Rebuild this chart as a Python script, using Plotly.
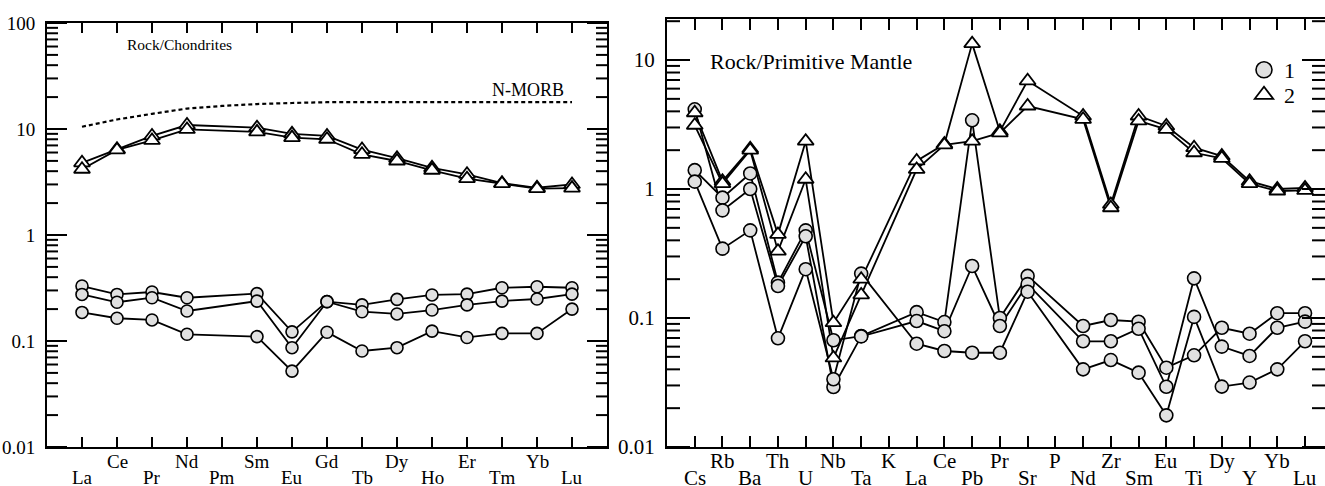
import plotly.graph_objects as go

W, H = 1325, 486
FONT = "Liberation Serif"

# ---------------- Left panel: Rock/Chondrites ----------------
ree = ["La", "Ce", "Pr", "Nd", "Pm", "Sm", "Eu", "Gd", "Tb", "Dy", "Ho", "Er", "Tm", "Yb", "Lu"]

ch_circle_a = [0.33, 0.275, 0.29, 0.256, None, 0.28, 0.122, 0.235, 0.219, 0.247, 0.272, 0.277, 0.318, 0.325, 0.318]
ch_circle_b = [0.275, 0.232, 0.256, 0.192, None, 0.238, 0.0865, 0.235, 0.189, 0.18, 0.196, 0.219, 0.238, 0.249, 0.277]
ch_circle_c = [0.186, 0.164, 0.158, 0.1157, None, 0.11, 0.052, 0.121, 0.0805, 0.0865, 0.124, 0.108, 0.118, 0.118, 0.2]

ch_tri_a = [4.8, 6.45, 8.6, 10.9, None, 10.3, 9.0, 8.6, 6.4, 5.3, 4.3, 3.74, 3.08, 2.79, 3.0]
ch_tri_b = [4.17, 6.35, 7.8, 9.9, None, 9.4, 8.3, 8.0, 5.77, 4.99, 4.08, 3.4, 3.05, 2.74, 2.77]

nmorb = [10.5, 12.3, 13.9, 15.6, 16.5, 17.2, 17.6, 17.9, 17.9, 17.9, 17.8, 17.9, 17.9, 17.9, 17.9]

# ---------------- Right panel: Rock/Primitive Mantle ----------------
spider = ["Cs", "Rb", "Ba", "Th", "U", "Nb", "Ta", "K", "La", "Ce", "Pb", "Pr", "Sr", "P",
          "Nd", "Zr", "Sm", "Eu", "Ti", "Dy", "Y", "Yb", "Lu"]

pm_circle_a = [1.40, 0.857, 1.32, 0.188, 0.478, 0.0672, 0.0725, None, 0.111, 0.093, 3.41, 0.1, 0.212, None,
               0.0867, 0.0965, 0.0936, 0.0412, 0.0514, 0.084, 0.0756, 0.109, 0.109]
pm_circle_b = [4.15, 0.683, 1.0, 0.177, 0.43, 0.0292, 0.072, None, 0.0947, 0.079, 0.253, 0.0867, 0.183, None,
               0.066, 0.066, 0.0826, 0.0293, 0.203, 0.06, 0.0508, 0.084, 0.0937]
pm_circle_c = [1.14, 0.345, 0.478, 0.0696, 0.239, 0.0335, 0.221, None, 0.0632, 0.0555, 0.0538, 0.0538, 0.16, None,
               0.04, 0.0472, 0.0377, 0.0176, 0.102, 0.0294, 0.0316, 0.04, 0.066]

pm_tri_a = [3.9, 1.15, 2.05, 0.445, 2.35, 0.092, 0.2, None, 1.65, 2.23, 13.4, 2.8, 6.9, None,
            3.68, 0.76, 3.68, 3.08, 2.09, 1.8, 1.15, 1.0, 1.02]
pm_tri_b = [3.12, 1.1, 2.0, 0.33, 1.19, 0.049, 0.151, None, 1.42, 2.2, 2.35, 2.72, 4.4, None,
            3.47, 0.716, 3.37, 2.9, 1.91, 1.73, 1.1, 0.965, 0.975]

legend_names = ["1", "2"]

# ---------------- geometry / styles ----------------
LXDOM = [47 / W, 607 / W]
RXDOM = [667 / W, 1.0]
LDOM = [39 / H, 463 / H]
RDOM = [39 / H, 467 / H]
LXRANGE = [-1, 15]
RXRANGE = [-1, 22.72]
LRANGE = [-2, 2]
RRANGE = [-2, 1.318]

LINE = dict(color="black", width=1.8)
CIRCLE = dict(symbol="circle", size=12, color="#e0e0e0", line=dict(color="black", width=1.6))
TRI = dict(symbol="triangle-up", size=14, color="white", line=dict(color="black", width=1.8))

fig = go.Figure()


def add_series(xcats, vals, marker, xa, ya, msize=None):
    idx = list(range(len(xcats)))
    fig.add_trace(go.Scatter(x=idx, y=vals, mode="lines", line=LINE, connectgaps=True,
                             xaxis=xa, yaxis=ya, showlegend=False, hoverinfo="skip"))
    return (idx, vals, marker, xa, ya, msize)


marker_layers = []
for v in [ch_circle_a, ch_circle_b, ch_circle_c]:
    marker_layers.append(add_series(ree, v, CIRCLE, "x", "y"))
for v in [ch_tri_a, ch_tri_b]:
    marker_layers.append(add_series(ree, v, TRI, "x", "y"))
for v in [pm_circle_a, pm_circle_b, pm_circle_c]:
    marker_layers.append(add_series(spider, v, CIRCLE, "x2", "y2", 13))
for v in [pm_tri_a, pm_tri_b]:
    marker_layers.append(add_series(spider, v, TRI, "x2", "y2"))

# N-MORB dashed reference
fig.add_trace(go.Scatter(x=list(range(len(ree))), y=nmorb, mode="lines",
                         line=dict(color="black", width=2.2, dash="4px,3px"),
                         xaxis="x", yaxis="y", showlegend=False, hoverinfo="skip"))


# ---------------- y-axis tick marks (inside, both sides, major + minor) ----------------
def decade_ticks(lo, hi):
    major, minor = [], []
    for e in range(lo, hi + 1):
        major.append(10.0 ** e)
        if e < hi:
            for k in range(2, 10):
                minor.append(k * 10.0 ** e)
    return major, minor


def tick_trace(xrange_, xdom, yrange, major, minor, len_major, len_minor, xa, ya):
    px_per_unit = (xdom[1] - xdom[0]) * W / (xrange_[1] - xrange_[0])
    ymin, ymax = 10 ** yrange[0], 10 ** yrange[1]
    xs, ys = [], []
    for vals, ln in [(major, len_major), (minor, len_minor)]:
        d = ln / px_per_unit
        for v in vals:
            if v < ymin * 0.999 or v > ymax * 1.001:
                continue
            xs += [xrange_[0], xrange_[0] + d, None, xrange_[1] - d, xrange_[1], None]
            ys += [v, v, None, v, v, None]
    fig.add_trace(go.Scatter(x=xs, y=ys, mode="lines", line=dict(color="black", width=2),
                             xaxis=xa, yaxis=ya, showlegend=False, hoverinfo="skip",
                             connectgaps=False))


l_major, l_minor = decade_ticks(-2, 2)
r_major, r_minor = decade_ticks(-2, 2)
tick_trace(LXRANGE, LXDOM, LRANGE, l_major, l_minor, 20, 11, "x", "y")
tick_trace(RXRANGE, RXDOM, RRANGE, r_major, r_minor, 23, 13, "x2", "y2")

# markers on top of all lines
for idx, vals, marker, xa, ya, msize in marker_layers:
    m = dict(marker)
    if msize:
        m["size"] = msize
    fig.add_trace(go.Scatter(x=idx, y=vals, mode="markers", marker=m,
                             xaxis=xa, yaxis=ya, showlegend=False, hoverinfo="skip"))

# legend entries (two separate legends to control the spacing)
fig.add_trace(go.Scatter(x=[None], y=[None], mode="markers", name=legend_names[0],
                         marker=dict(CIRCLE, size=17), xaxis="x2", yaxis="y2", legend="legend"))
fig.add_trace(go.Scatter(x=[None], y=[None], mode="markers", name=legend_names[1],
                         marker=dict(TRI, size=19), xaxis="x2", yaxis="y2", legend="legend2"))

# ---------------- axes ----------------
common_x = dict(showgrid=False, zeroline=False, showline=True, linecolor="black", linewidth=2,
                mirror="ticks", ticks="inside", ticklen=10, tickwidth=2, tickcolor="black",
                showticklabels=False, automargin=False)

common_y = dict(type="log", showgrid=False, zeroline=False, showline=True, linecolor="black",
                linewidth=2, mirror="ticks", ticks="inside", tickwidth=2, tickcolor="black",
                automargin=False, ticklabelstandoff=6)

fig.update_layout(
    template="none",
    width=W, height=H,
    margin=dict(l=0, r=0, t=0, b=0, pad=0),
    paper_bgcolor="white", plot_bgcolor="white",
    font=dict(family=FONT, color="black"),
    xaxis=dict(common_x, domain=LXDOM, range=LXRANGE,
               tickvals=list(range(len(ree))), anchor="y"),
    yaxis=dict(common_y, range=LRANGE, domain=LDOM, dtick=1, ticklen=20,
               tickfont=dict(size=19), anchor="x"),
    xaxis2=dict(common_x, domain=RXDOM, range=RXRANGE,
                tickvals=list(range(len(spider))), anchor="y2", ticklen=11),
    yaxis2=dict(common_y, range=RRANGE, domain=RDOM, dtick=1, ticklen=23,
                tickfont=dict(size=21), anchor="x2"),
    showlegend=True,
    legend=dict(x=1244 / W, y=1 - 49 / H, xanchor="left", yanchor="top",
                font=dict(size=22, family=FONT), bgcolor="rgba(0,0,0,0)",
                itemsizing="trace"),
    legend2=dict(x=1244 / W, y=1 - 74 / H, xanchor="left", yanchor="top",
                 font=dict(size=22, family=FONT), bgcolor="rgba(0,0,0,0)",
                 itemsizing="trace"),
)

# ---------------- category labels (two staggered rows) ----------------
ann = []
row_up = (H - 461) / H
row_lo = (H - 477.5) / H
for i, name in enumerate(ree):
    ann.append(dict(x=i, y=row_up if i % 2 else row_lo, xref="x", yref="paper", text=name,
                    showarrow=False, font=dict(size=19, family=FONT), yanchor="middle"))
for i, name in enumerate(spider):
    ann.append(dict(x=i, y=row_up if i % 2 else row_lo, xref="x2", yref="paper", text=name,
                    showarrow=False, font=dict(size=21, family=FONT), yanchor="middle"))

ann.append(dict(x=125 / W, y=1 - 44 / H, xref="paper", yref="paper", text="Rock/Chondrites",
                showarrow=False, xanchor="left", yanchor="middle", font=dict(size=15.5, family=FONT)))
ann.append(dict(x=490 / W, y=1 - 90 / H, xref="paper", yref="paper", text="N-MORB",
                showarrow=False, xanchor="left", yanchor="middle", font=dict(size=18, family=FONT)))
ann.append(dict(x=708 / W, y=1 - 61 / H, xref="paper", yref="paper", text="Rock/Primitive Mantle",
                showarrow=False, xanchor="left", yanchor="middle", font=dict(size=22, family=FONT)))
fig.update_layout(annotations=ann)

fig.write_html("out.html", config={"displayModeBar": False},
               post_script="document.body.style.margin='0';")
